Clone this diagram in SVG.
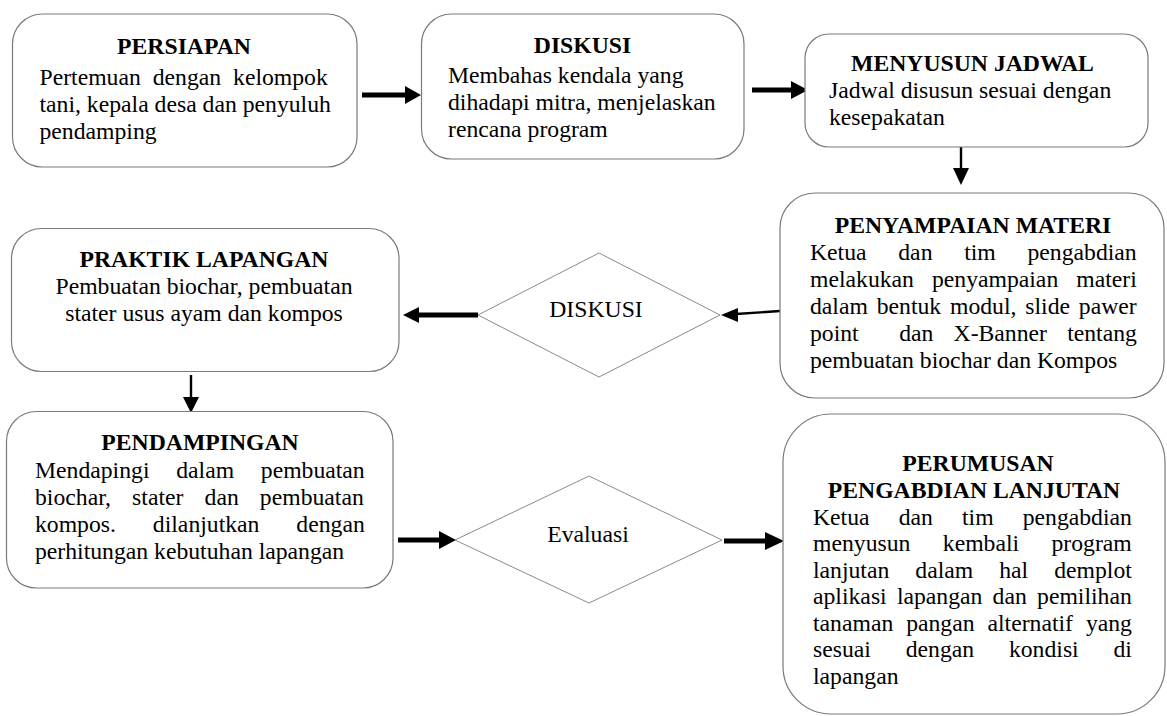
<svg xmlns="http://www.w3.org/2000/svg" width="1167" height="716" viewBox="0 0 1167 716">
<style>
.box{fill:#fff;stroke:#7a7a7a;stroke-width:1.2}
.dia{fill:#fff;stroke:#8a8a8a;stroke-width:1}
.t{font-family:"Liberation Serif","Times New Roman",serif;font-size:23.7px;fill:#000}
.b{font-weight:bold}
.c{text-anchor:middle}
.thick{stroke:#000;stroke-width:5;fill:none}
.thin{stroke:#000;stroke-width:2.4;fill:none}
.head{fill:#000}
</style>
<rect width="1167" height="716" fill="#fff"/>
<g id="connectors">
  <line class="thick" x1="362" y1="95" x2="406" y2="95"/>
  <polygon class="head" points="405,86 421,95 405,104"/>
  <line class="thick" x1="752" y1="90" x2="792" y2="90"/>
  <polygon class="head" points="791,81 808,90 791,99"/>
  <line class="thin" x1="961" y1="127" x2="961" y2="170"/>
  <polygon class="head" points="953,168 969,168 961,185"/>
  <line class="thin" x1="780" y1="311" x2="736" y2="314"/>
  <polygon class="head" points="738,308 721,315 738,322"/>
  <line class="thick" x1="478" y1="315" x2="418" y2="315"/>
  <polygon class="head" points="419,307 403,315 419,323"/>
  <line class="thin" x1="191" y1="375" x2="191" y2="399"/>
  <polygon class="head" points="183,397 199,397 191,413"/>
  <line class="thick" x1="398" y1="540" x2="440" y2="540"/>
  <polygon class="head" points="439,531 456,540 439,549"/>
  <line class="thick" x1="724" y1="541" x2="766" y2="541"/>
  <polygon class="head" points="765,532 784,541 765,550"/>
</g>
<g id="persiapan">
  <rect class="box" x="12.5" y="14" width="344.5" height="153" rx="30"/>
  <text class="t b c" x="184" y="54">PERSIAPAN</text>
  <text class="t" x="39.5" y="85" style="word-spacing:6px">Pertemuan dengan kelompok</text>
  <text class="t" x="39.5" y="112">tani, kepala desa dan penyuluh</text>
  <text class="t" x="39.5" y="139">pendamping</text>
</g>
<g id="diskusi">
  <rect class="box" x="421.5" y="14" width="322.5" height="145" rx="30"/>
  <text class="t b c" x="582.5" y="53">DISKUSI</text>
  <text class="t" x="448" y="83">Membahas kendala yang</text>
  <text class="t" x="448" y="110">dihadapi mitra, menjelaskan</text>
  <text class="t" x="448" y="137">rencana program</text>
</g>
<g id="menyusun-jadwal">
  <rect class="box" x="805" y="34" width="343" height="113" rx="24"/>
  <text class="t b c" x="972.5" y="71">MENYUSUN JADWAL</text>
  <text class="t" x="829" y="98">Jadwal disusun sesuai dengan</text>
  <text class="t" x="829" y="125">kesepakatan</text>
</g>
<g id="penyampaian-materi">
  <rect class="box" x="780" y="193" width="384" height="205" rx="35"/>
  <text class="t b c" x="973" y="233">PENYAMPAIAN MATERI</text>
  <text class="t" x="810" y="260" style="word-spacing:25.8px">Ketua dan tim pengabdian</text>
  <text class="t" x="810" y="287" style="word-spacing:12.1px">melakukan penyampaian materi</text>
  <text class="t" x="810" y="314" style="word-spacing:2.9px">dalam bentuk modul, slide pawer</text>
  <text class="t" x="810" y="341" style="word-spacing:14.3px" xml:space="preserve">point  dan X-Banner tentang</text>
  <text class="t" x="810" y="368">pembuatan biochar dan Kompos</text>
</g>
<g id="diskusi-decision">
  <polygon class="dia" points="478,315 599,253 720,315 599,377"/>
  <text class="t c" x="596" y="317">DISKUSI</text>
</g>
<g id="praktik-lapangan">
  <rect class="box" x="11.5" y="228.5" width="387.5" height="143" rx="30"/>
  <text class="t b c" x="204" y="267">PRAKTIK LAPANGAN</text>
  <text class="t c" x="204" y="294">Pembuatan biochar, pembuatan</text>
  <text class="t c" x="204" y="321">stater usus ayam dan kompos</text>
</g>
<g id="pendampingan">
  <rect class="box" x="6.5" y="411.5" width="386.5" height="176.5" rx="30"/>
  <text class="t b c" x="200" y="450">PENDAMPINGAN</text>
  <text class="t" x="35" y="478" style="word-spacing:20.8px">Mendapingi dalam pembuatan</text>
  <text class="t" x="35" y="505" style="word-spacing:15.2px">biochar, stater dan pembuatan</text>
  <text class="t" x="35" y="532" style="word-spacing:31px">kompos. dilanjutkan dengan</text>
  <text class="t" x="35" y="559">perhitungan kebutuhan lapangan</text>
</g>
<g id="evaluasi">
  <polygon class="dia" points="455,540 589,476 722,540 589,603"/>
  <text class="t c" x="588" y="542">Evaluasi</text>
</g>
<g id="perumusan">
  <rect class="box" x="783" y="414" width="382" height="300" rx="48"/>
  <text class="t b c" x="978" y="471">PERUMUSAN</text>
  <text class="t b c" x="974" y="498">PENGABDIAN LANJUTAN</text>
  <text class="t" x="813" y="525" style="word-spacing:23.2px">Ketua dan tim pengabdian</text>
  <text class="t" x="813" y="551" style="word-spacing:26.5px">menyusun kembali program</text>
  <text class="t" x="813" y="578" style="word-spacing:20.1px">lanjutan dalam hal demplot</text>
  <text class="t" x="813" y="604" style="word-spacing:4.3px">aplikasi lapangan dan pemilihan</text>
  <text class="t" x="813" y="631" style="word-spacing:7px">tanaman pangan alternatif yang</text>
  <text class="t" x="813" y="657" style="word-spacing:28.9px">sesuai dengan kondisi di</text>
  <text class="t" x="813" y="684">lapangan</text>
</g>
</svg>
